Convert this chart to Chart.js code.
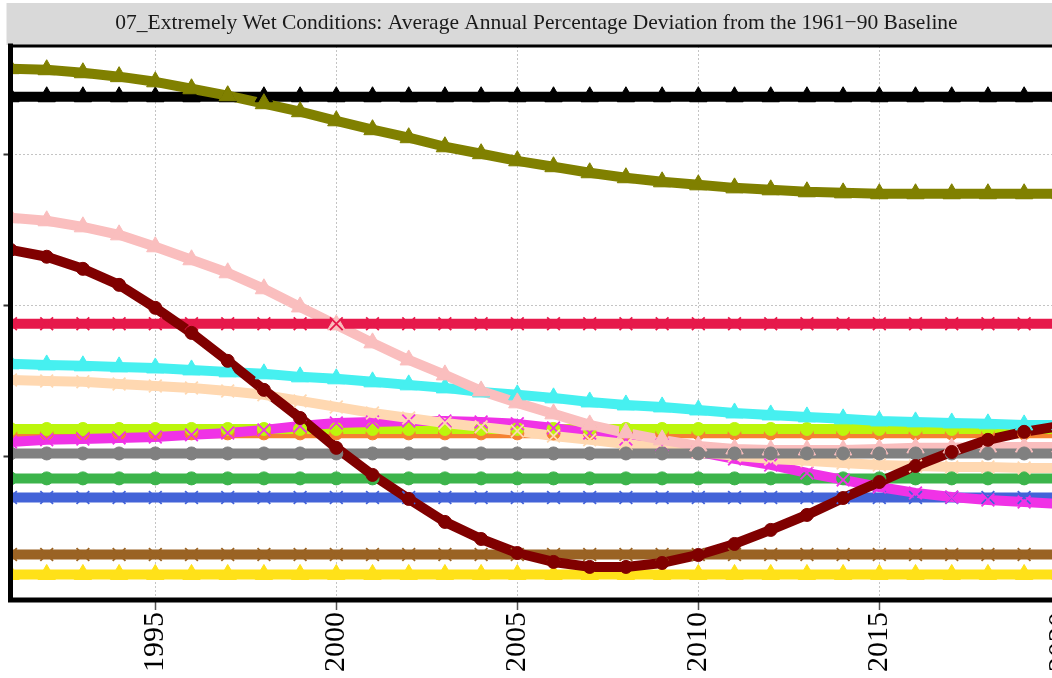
<!DOCTYPE html>
<html>
<head>
<meta charset="utf-8">
<script src="https://cdn.jsdelivr.net/npm/chart.js@4/dist/chart.umd.min.js"></script>
<style>
  html, body { margin: 0; padding: 0; background: #ffffff; overflow: hidden; width: 1052px; height: 678px; }
  canvas { display: block; }
</style>
</head>
<body>
<canvas id="c" width="1073" height="678"></canvas>
<script>
const chartTitle = '07_Extremely Wet Conditions: Average Annual Percentage Deviation from the 1961\u221290 Baseline';
const years = [1991,1992,1993,1994,1995,1996,1997,1998,1999,2000,2001,2002,2003,2004,2005,2006,2007,2008,2009,2010,2011,2012,2013,2014,2015,2016,2017,2018,2019,2020];
const xTickValues = [1995, 2000, 2005, 2010, 2015, 2020];
const yTickValues = [0, 10, 20];

const seriesOlive   = [25.70,25.63,25.43,25.17,24.83,24.37,23.91,23.38,22.85,22.25,21.66,21.13,20.53,20.07,19.60,19.21,18.81,18.48,18.21,18.01,17.81,17.68,17.55,17.48,17.42,17.42,17.42,17.42,17.42,17.42];
const seriesBlack   = [23.84,23.84,23.84,23.84,23.84,23.84,23.84,23.84,23.84,23.84,23.84,23.84,23.84,23.84,23.84,23.84,23.84,23.84,23.84,23.84,23.84,23.84,23.84,23.84,23.84,23.84,23.84,23.84,23.84,23.84];
const seriesPink    = [15.83,15.63,15.23,14.70,13.91,13.05,12.19,11.13,9.93,8.74,7.55,6.42,5.43,4.37,3.58,2.85,2.12,1.59,1.13,0.73,0.53,0.46,0.46,0.46,0.53,0.60,0.60,0.66,0.66,0.66];
const seriesCrimson = [8.81,8.81,8.81,8.81,8.81,8.81,8.81,8.81,8.81,8.81,8.81,8.81,8.81,8.81,8.81,8.81,8.81,8.81,8.81,8.81,8.81,8.81,8.81,8.81,8.81,8.81,8.81,8.81,8.81,8.81];
const seriesMaroon  = [13.71,13.25,12.45,11.39,9.87,8.21,6.36,4.44,2.58,0.60,-1.19,-2.78,-4.30,-5.43,-6.36,-6.95,-7.28,-7.28,-7.02,-6.49,-5.76,-4.83,-3.84,-2.72,-1.66,-0.60,0.33,1.13,1.66,2.05];
const seriesCyan    = [6.16,6.09,6.03,5.96,5.89,5.76,5.63,5.50,5.30,5.17,4.97,4.77,4.57,4.30,4.11,3.91,3.64,3.44,3.31,3.11,2.91,2.78,2.65,2.52,2.38,2.32,2.25,2.19,2.12,2.12];
const seriesPeach   = [5.10,5.03,4.97,4.83,4.70,4.57,4.37,4.11,3.71,3.31,2.91,2.58,2.25,1.99,1.72,1.39,1.13,0.86,0.60,0.33,0.07,-0.13,-0.26,-0.40,-0.53,-0.60,-0.66,-0.66,-0.73,-0.73];
const seriesLime    = [1.85,1.85,1.85,1.85,1.85,1.85,1.85,1.85,1.85,1.85,1.85,1.85,1.85,1.85,1.85,1.85,1.85,1.85,1.85,1.85,1.85,1.85,1.85,1.85,1.85,1.85,1.85,1.85,1.85,1.85];
const seriesOrange  = [1.56,1.56,1.56,1.56,1.56,1.56,1.56,1.56,1.56,1.56,1.56,1.56,1.56,1.56,1.56,1.56,1.56,1.56,1.56,1.56,1.56,1.56,1.56,1.56,1.56,1.56,1.56,1.56,1.56,1.56];
const seriesMagenta = [0.99,1.13,1.19,1.26,1.32,1.46,1.59,1.79,2.05,2.25,2.32,2.38,2.38,2.32,2.19,1.92,1.59,1.19,0.79,0.33,-0.13,-0.53,-1.06,-1.52,-1.99,-2.38,-2.65,-2.85,-2.98,-3.11];
const seriesGray    = [0.23,0.23,0.23,0.23,0.23,0.23,0.23,0.23,0.23,0.23,0.23,0.23,0.23,0.23,0.23,0.23,0.23,0.23,0.23,0.23,0.23,0.23,0.23,0.23,0.23,0.23,0.23,0.23,0.23,0.23];
const seriesGreen   = [-1.42,-1.42,-1.42,-1.42,-1.42,-1.42,-1.42,-1.42,-1.42,-1.42,-1.42,-1.42,-1.42,-1.42,-1.42,-1.42,-1.42,-1.42,-1.42,-1.42,-1.42,-1.42,-1.42,-1.42,-1.42,-1.42,-1.42,-1.42,-1.42,-1.42];
const seriesBlue    = [-2.68,-2.68,-2.68,-2.68,-2.68,-2.68,-2.68,-2.68,-2.68,-2.68,-2.68,-2.68,-2.68,-2.68,-2.68,-2.68,-2.68,-2.68,-2.68,-2.68,-2.68,-2.68,-2.68,-2.68,-2.68,-2.68,-2.68,-2.68,-2.68,-2.68];
const seriesBrown   = [-6.46,-6.46,-6.46,-6.46,-6.46,-6.46,-6.46,-6.46,-6.46,-6.46,-6.46,-6.46,-6.46,-6.46,-6.46,-6.46,-6.46,-6.46,-6.46,-6.46,-6.46,-6.46,-6.46,-6.46,-6.46,-6.46,-6.46,-6.46,-6.46,-6.46];
const seriesYellow  = [-7.78,-7.78,-7.78,-7.78,-7.78,-7.78,-7.78,-7.78,-7.78,-7.78,-7.78,-7.78,-7.78,-7.78,-7.78,-7.78,-7.78,-7.78,-7.78,-7.78,-7.78,-7.78,-7.78,-7.78,-7.78,-7.78,-7.78,-7.78,-7.78,-7.78];

// drawing order: first = bottom, last = top
const series = [
  { name: 'yellow',  data: seriesYellow,  color: '#FFE119', shape: 'triangle' },
  { name: 'brown',   data: seriesBrown,   color: '#9A6324', shape: 'crossRot' },
  { name: 'blue',    data: seriesBlue,    color: '#4363D8', shape: 'crossRot' },
  { name: 'green',   data: seriesGreen,   color: '#3CB44B', shape: 'circle' },
  { name: 'orange',  data: seriesOrange,  color: '#F58231', shape: 'circle' },
  { name: 'lime',    data: seriesLime,    color: '#BCF60C', shape: 'circle' },
  { name: 'cyan',    data: seriesCyan,    color: '#46F0F0', shape: 'triangle' },
  { name: 'magenta', data: seriesMagenta, color: '#F032E6', shape: 'crossRot' },
  { name: 'peach',   data: seriesPeach,   color: '#FFD8B1', shape: 'crossRot' },
  { name: 'pink',    data: seriesPink,    color: '#FABEBE', shape: 'triangle' },
  { name: 'gray',    data: seriesGray,    color: '#808080', shape: 'circle' },
  { name: 'crimson', data: seriesCrimson, color: '#E6194B', shape: 'crossRot' },
  { name: 'black',   data: seriesBlack,   color: '#000000', shape: 'triangle' },
  { name: 'olive',   data: seriesOlive,   color: '#808000', shape: 'triangle' },
  { name: 'maroon',  data: seriesMaroon,  color: '#800000', shape: 'circle' }
];

const pointRadius = { circle: 6.5, triangle: 10, crossRot: 9 };
const pointBorder = { circle: 1, triangle: 1, crossRot: 1.8 };

const datasets = [];
let layer = 0;
series.forEach(s => {
  datasets.push({
    label: s.name,
    data: years.map((y, i) => ({ x: y, y: s.data[i] })),
    borderColor: s.color,
    backgroundColor: s.color,
    borderWidth: 10,
    borderJoinStyle: 'round',
    borderCapStyle: 'butt',
    pointRadius: 0,
    tension: 0,
    clip: 0,
    order: -(layer++)
  });
});
series.forEach(s => {
  datasets.push({
    label: s.name + ' points',
    data: years.map((y, i) => ({ x: y, y: s.data[i] })),
    showLine: false,
    pointStyle: s.shape,
    pointRadius: pointRadius[s.shape],
    pointBorderWidth: pointBorder[s.shape],
    pointBackgroundColor: s.color,
    pointBorderColor: s.color,
    clip: 0,
    order: -(layer++)
  });
});

const stripPlugin = {
  id: 'strip',
  beforeDraw(chart) {
    const ctx = chart.ctx;
    const a = chart.chartArea;
    ctx.save();
    ctx.fillStyle = '#ffffff';
    ctx.fillRect(0, 0, chart.width, chart.height);
    ctx.fillStyle = '#D9D9D9';
    ctx.fillRect(a.left - 4, 3, a.right - a.left + 4, a.top - 4);
    ctx.restore();
  },
  afterDatasetsDraw(chart) {
    const ctx = chart.ctx;
    const a = chart.chartArea;
    ctx.save();
    ctx.strokeStyle = '#000000';
    ctx.lineCap = 'square';
    ctx.lineWidth = 3;
    ctx.beginPath(); ctx.moveTo(a.left, a.top); ctx.lineTo(a.right, a.top); ctx.stroke();
    ctx.lineWidth = 5;
    ctx.beginPath(); ctx.moveTo(a.left, a.top); ctx.lineTo(a.left, a.bottom); ctx.lineTo(a.right, a.bottom); ctx.lineTo(a.right, a.top); ctx.stroke();
    ctx.restore();
  }
};

new Chart(document.getElementById('c'), {
  type: 'line',
  data: { datasets },
  plugins: [stripPlugin],
  options: {
    responsive: false,
    animation: false,
    events: [],
    layout: { padding: 0, autoPadding: false },
    plugins: {
      legend: { display: false },
      tooltip: { enabled: false },
      title: {
        display: true,
        text: chartTitle,
        color: '#1A1A1A',
        font: { family: 'Liberation Serif', size: 21.5, weight: 'normal', lineHeight: 1.2 },
        padding: { top: 10, bottom: 10.2 }
      }
    },
    scales: {
      x: {
        type: 'linear',
        min: 1991,
        max: 2020.35,
        afterBuildTicks: s => { s.ticks = xTickValues.map(v => ({ value: v })); },
        afterFit: s => { s.height = 78; s.paddingLeft = 0; s.paddingRight = 0; },
        ticks: {
          autoSkip: false,
          minRotation: 90,
          maxRotation: 90,
          padding: 2,
          color: '#000000',
          font: { family: 'Liberation Serif', size: 30 },
          callback: v => String(v)
        },
        grid: { color: '#C4C4C4', lineWidth: 1, tickLength: 10, tickColor: '#555555', tickWidth: 1.5 },
        border: { display: false, dash: [2, 2] }
      },
      y: {
        type: 'linear',
        min: -9.47,
        max: 27.2,
        afterBuildTicks: s => { s.ticks = yTickValues.map(v => ({ value: v })); },
        afterFit: s => { s.width = 10.5; s.paddingTop = 0; s.paddingBottom = 0; },
        ticks: { display: false },
        grid: { color: '#C4C4C4', lineWidth: 1, tickLength: 7, tickColor: '#333333', tickWidth: 2 },
        border: { display: false, dash: [2, 2] }
      }
    }
  }
});
</script>
</body>
</html>
